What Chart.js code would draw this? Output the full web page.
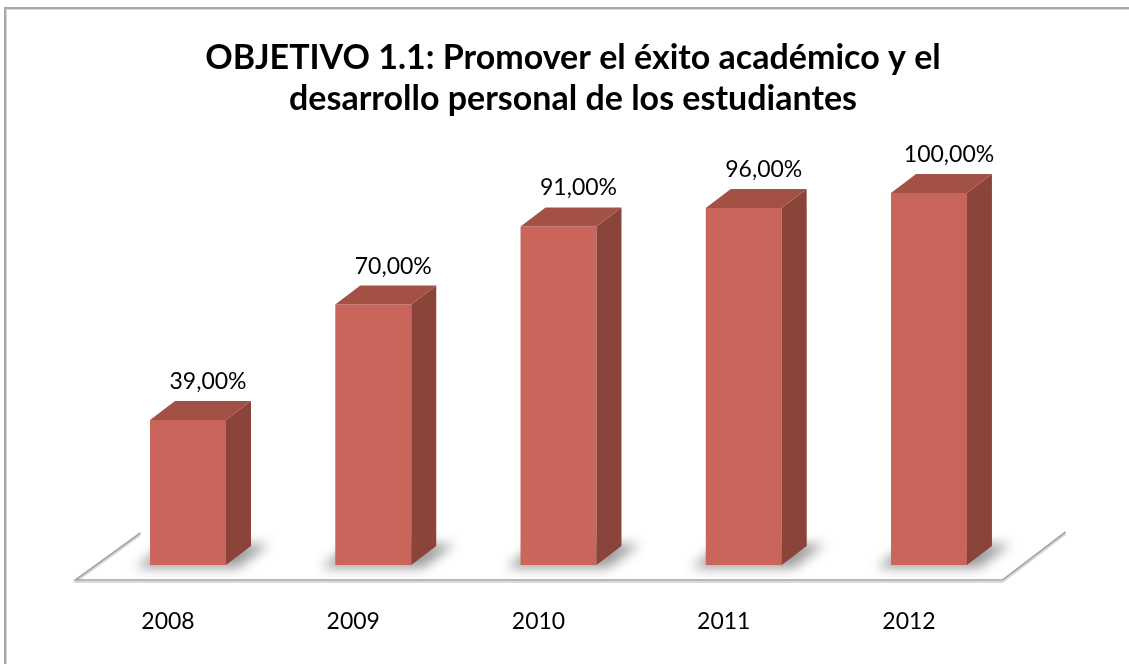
<!DOCTYPE html>
<html><head><meta charset="utf-8">
<script src="https://cdn.jsdelivr.net/npm/chart.js@4.4.0/dist/chart.umd.min.js"></script>
<style>html,body{margin:0;padding:0;background:#fff;overflow:hidden;}canvas{display:block;}</style>
</head><body>
<canvas id="c" width="1129" height="664"></canvas>
<script>
const titleLines = ['OBJETIVO 1.1: Promover el éxito académico y el', 'desarrollo personal de los estudiantes'];
const years = ['2008', '2009', '2010', '2011', '2012'];
const values = [39, 70, 91, 96, 100];
const valueLabels = ['39,00%', '70,00%', '91,00%', '96,00%', '100,00%'];

const FRONT = '#C9655B', SIDE = '#8B443A', TOP = '#A35045';
const DX = 25, DY = -19;

const bar3d = {
  id: 'bar3d',
  beforeDraw(chart) {
    const ctx = chart.ctx;
    ctx.save();
    ctx.fillStyle = '#fff';
    ctx.fillRect(0, 0, chart.width, chart.height);
    // frame
    ctx.fillStyle = '#A8A8A8';
    ctx.fillRect(5, 7, chart.width - 5, 2);
    ctx.fillRect(4, 7, 2, chart.height - 7);
    ctx.fillStyle = '#D6D6D6';
    ctx.fillRect(6, 9, chart.width - 6, 1);
    ctx.fillRect(6, 9, 1, chart.height - 9);
    // title
    ctx.fillStyle = '#000';
    ctx.font = 'bold 34px Lato';
    ctx.textAlign = 'center';
    ctx.textBaseline = 'alphabetic';
    ctx.fillText(titleLines[0], 573, 69);
    ctx.fillText(titleLines[1], 573, 110);
    ctx.restore();
  },
  beforeDatasetsDraw(chart) {
    const ctx = chart.ctx, a = chart.chartArea;
    const y0 = chart.scales.y.getPixelForValue(0);
    const fl = [a.left - 20, y0 + 15], fr = [a.right - 19, y0 + 15];
    const bl = [fl[0] + 65, fl[1] - 47], br = [fr[0] + 63, fr[1] - 48];
    ctx.save();
    ctx.fillStyle = '#fff';
    ctx.beginPath();
    ctx.moveTo(...fl); ctx.lineTo(...fr); ctx.lineTo(...br); ctx.lineTo(...bl); ctx.closePath();
    ctx.fill();
    ctx.strokeStyle = '#DADADA';
    ctx.lineWidth = 2;
    ctx.beginPath();
    ctx.moveTo(bl[0], bl[1] + 2); ctx.lineTo(fl[0], fl[1] + 2); ctx.lineTo(fr[0], fr[1] + 2); ctx.lineTo(br[0], br[1] + 2);
    ctx.stroke();
    ctx.strokeStyle = '#A4A4A4';
    ctx.lineWidth = 1.6;
    ctx.beginPath();
    ctx.moveTo(...bl); ctx.lineTo(...fl); ctx.lineTo(...fr); ctx.lineTo(...br);
    ctx.stroke();
    // shadows
    const meta = chart.getDatasetMeta(0);
    ctx.filter = 'blur(6px)';
    ctx.fillStyle = 'rgba(0,0,0,0.38)';
    meta.data.forEach(b => {
      const w = b.width;
      ctx.beginPath();
      ctx.moveTo(b.x - w / 2 - 14, b.base + 3);
      ctx.lineTo(b.x + w / 2 + 12, b.base + 3);
      ctx.lineTo(b.x + w / 2 + DX + 18, b.base + DY - 2);
      ctx.lineTo(b.x - w / 2 + DX - 10, b.base + DY - 2);
      ctx.closePath();
      ctx.fill();
    });
    ctx.restore();
  },
  afterDatasetsDraw(chart) {
    const ctx = chart.ctx;
    const meta = chart.getDatasetMeta(0);
    ctx.save();
    meta.data.forEach((b, i) => {
      const l = b.x - b.width / 2, r = b.x + b.width / 2;
      ctx.fillStyle = SIDE;
      ctx.beginPath();
      ctx.moveTo(r, b.y); ctx.lineTo(r + DX, b.y + DY); ctx.lineTo(r + DX, b.base + DY); ctx.lineTo(r, b.base);
      ctx.closePath(); ctx.fill();
      ctx.fillStyle = TOP;
      ctx.beginPath();
      ctx.moveTo(l, b.y); ctx.lineTo(l + DX, b.y + DY); ctx.lineTo(r + DX, b.y + DY); ctx.lineTo(r, b.y);
      ctx.closePath(); ctx.fill();
      ctx.fillStyle = '#000';
      ctx.font = '23px Lato';
      ctx.textAlign = 'center';
      ctx.textBaseline = 'alphabetic';
      ctx.fillText(valueLabels[i], b.x + 20, b.y + DY - 12);
    });
    ctx.restore();
  }
};

new Chart(document.getElementById('c'), {
  type: 'bar',
  data: {
    labels: years,
    datasets: [{
      data: values,
      backgroundColor: FRONT,
      borderWidth: 0,
      categoryPercentage: 1,
      barPercentage: 0.41
    }]
  },
  options: {
    responsive: false,
    animation: false,
    devicePixelRatio: 1,
    layout: { padding: { left: 95.4, right: 107.4, top: 193, bottom: 0 } },
    plugins: { legend: { display: false }, title: { display: false }, tooltip: { enabled: false } },
    scales: {
      x: {
        grid: { display: false, drawTicks: false },
        border: { display: false },
        ticks: { color: '#000', font: { family: 'Lato', size: 23 }, padding: 43, labelOffset: -20 },
        afterFit(scale) { scale.height = 99; }
      },
      y: {
        display: false,
        min: 0,
        max: 100
      }
    }
  },
  plugins: [bar3d]
});
</script>
</body></html>
